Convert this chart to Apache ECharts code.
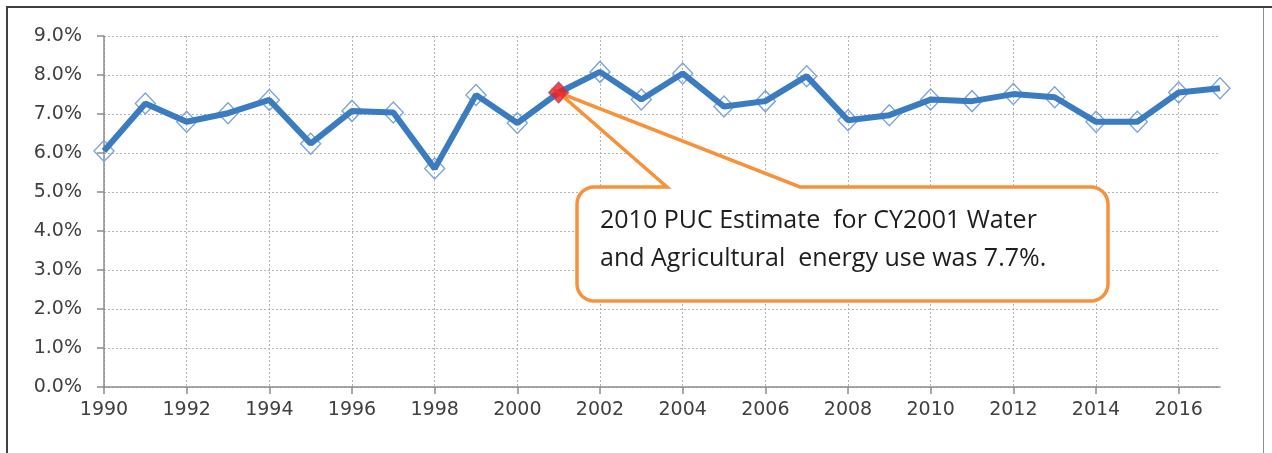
<!DOCTYPE html>
<html>
<head>
<meta charset="utf-8">
<script src="https://cdn.jsdelivr.net/npm/echarts@6/dist/echarts.min.js"></script>
<style>
  html, body { margin: 0; padding: 0; background: #ffffff; }
  #chart { width: 1272px; height: 453px; }
</style>
</head>
<body>
<div id="chart"></div>
<script>
// Share of electricity use for water and agriculture, by calendar year (percent)
const years = ['1990','1991','1992','1993','1994','1995','1996','1997','1998','1999',
               '2000','2001','2002','2003','2004','2005','2006','2007','2008','2009',
               '2010','2011','2012','2013','2014','2015','2016','2017'];
const sharePct = [6.05, 7.27, 6.80, 7.02, 7.36, 6.24, 7.08, 7.04, 5.60, 7.49,
                  6.77, 7.55, 8.08, 7.37, 8.04, 7.19, 7.33, 7.97, 6.84, 6.97,
                  7.37, 7.33, 7.51, 7.43, 6.80, 6.80, 7.55, 7.66];
const yTicks = { min: 0, max: 9, interval: 1 };
const highlightYear = '2001';
const calloutLines = ['2010 PUC Estimate  for CY2001 Water',
                      'and Agricultural  energy use was 7.7%.'];

const axisFont = { fontFamily: 'DejaVu Sans', fontSize: 19, fontWeight: 'normal', color: '#404040' };
const chart = echarts.init(document.getElementById('chart'), null, { renderer: 'canvas' });

const highlightIdx = years.indexOf(highlightYear);

chart.setOption({
  animation: false,
  backgroundColor: '#ffffff',
  grid: { left: 104, right: 52, top: 36, bottom: 66, containLabel: false },
  xAxis: {
    type: 'category',
    data: years,
    boundaryGap: false,
    axisLine: { lineStyle: { color: '#8c8c8c', width: 1.5 } },
    axisTick: { show: true, interval: 1, length: 7, lineStyle: { color: '#8c8c8c', width: 1.5 } },
    axisLabel: Object.assign({ interval: 1, margin: 14 }, axisFont),
    splitLine: { show: true, interval: 1, lineStyle: { color: '#b4b4b4', type: [2, 2], width: 1 } }
  },
  yAxis: {
    type: 'value',
    min: yTicks.min, max: yTicks.max, interval: yTicks.interval,
    axisLine: { show: true, lineStyle: { color: '#8c8c8c', width: 1.5 } },
    axisTick: { show: true, length: 7, lineStyle: { color: '#8c8c8c', width: 1.5 } },
    axisLabel: Object.assign({ margin: 22, formatter: v => v.toFixed(1) + '%' }, axisFont),
    splitLine: { show: true, lineStyle: { color: '#b4b4b4', type: [2, 2], width: 1 } }
  },
  series: [
    {
      // hollow diamond markers sit beneath the line
      name: 'markers',
      type: 'line',
      data: sharePct,
      z: 2,
      symbol: 'diamond',
      symbolSize: [20, 21],
      showAllSymbol: true,
      lineStyle: { opacity: 0 },
      itemStyle: { color: 'rgba(255,255,255,0)', borderColor: '#7ea5d8', borderWidth: 1.4 }
    },
    {
      name: 'share',
      type: 'line',
      data: sharePct,
      z: 3,
      symbol: 'none',
      lineStyle: { color: '#3b7cc0', width: 6 }
    },
    {
      name: 'highlight',
      type: 'scatter',
      data: [[highlightYear, sharePct[highlightIdx]]],
      z: 6,
      symbol: 'diamond',
      symbolSize: [20, 21],
      itemStyle: { color: '#ea1c24' }
    }
  ]
});

// callout box outline: rounded rectangle with a pointer notch on its top edge
const tip = chart.convertToPixel({ seriesIndex: 2 }, [highlightIdx, sharePct[highlightIdx]]);
const L = 577, T = 187, R = 1108, B = 301, r = 17, n1 = 667, n2 = 800;
function corner(cx, cy, a0, a1) {
  const pts = [];
  for (let i = 0; i <= 8; i++) {
    const a = a0 + (a1 - a0) * i / 8;
    pts.push([cx + r * Math.cos(a), cy + r * Math.sin(a)]);
  }
  return pts;
}
const outline = [].concat(
  [[n1, T], [tip[0], tip[1]], [n2, T]],
  corner(R - r, T + r, -Math.PI / 2, 0),
  corner(R - r, B - r, 0, Math.PI / 2),
  corner(L + r, B - r, Math.PI / 2, Math.PI),
  corner(L + r, T + r, Math.PI, Math.PI * 1.5)
);

chart.setOption({
  graphic: [
    {
      type: 'polygon', z: 5,
      shape: { points: outline },
      style: { fill: '#ffffff', stroke: '#f7923a', lineWidth: 3.5, lineJoin: 'miter' }
    },
    {
      type: 'text', z: 7, left: 600, top: 202,
      style: {
        text: calloutLines.join('\n'),
        fontFamily: 'Open Sans', fontSize: 25, lineHeight: 38,
        fill: '#1e1e1e'
      }
    },
    {
      // frame around the chart area
      type: 'polyline', z: 8, silent: true,
      shape: { points: [[7, 460], [7, 7], [1272, 7]] },
      style: { stroke: '#404040', lineWidth: 2, fill: null }
    },
    {
      type: 'line', z: 8, silent: true,
      shape: { x1: 1263.5, y1: 8, x2: 1263.5, y2: 453 },
      style: { stroke: '#8c8c8c', lineWidth: 1 }
    }
  ]
});
</script>
</body>
</html>
